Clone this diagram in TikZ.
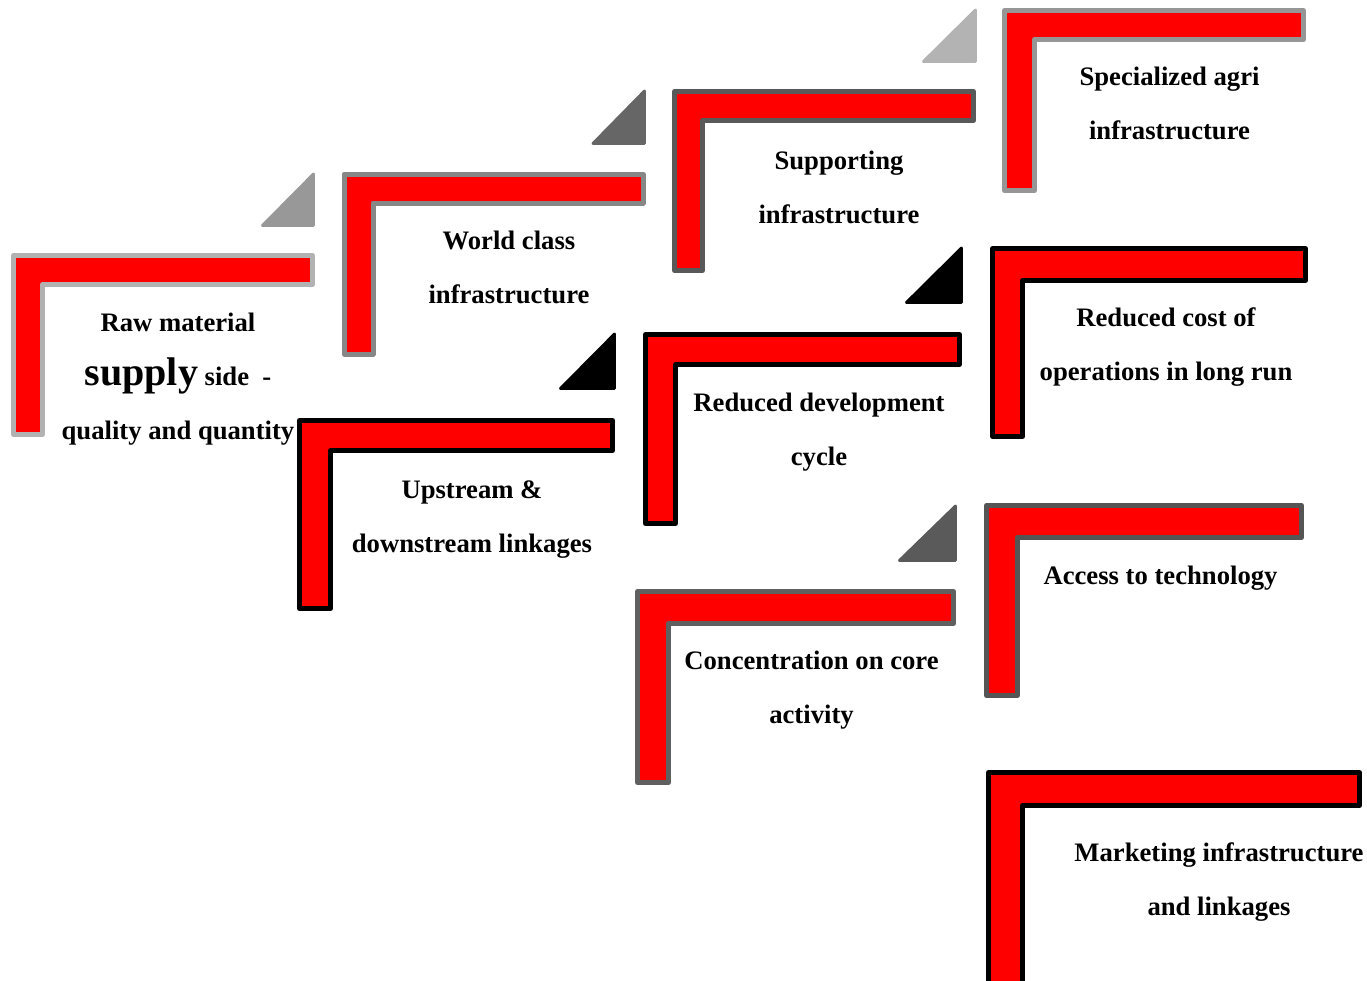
\documentclass[tikz,border=0pt]{standalone}
\usepackage{fontspec}
\setmainfont{Liberation Serif}
% one text line with a full-height strut, so every label box has the same vertical metrics
\newcommand\sline[1]{\strut#1}
% red L-shaped band: left, top, right, bottom of the bar, right of the post, bottom of the post
\newcommand\elbow[7]{%
  \draw[lframe, draw=#7] (#1,#2) -- (#3,#2) -- (#3,#4) -- (#5,#4) -- (#5,#6) -- (#1,#6) -- cycle;}
% small right-angled wedge: top-right corner, bottom-left corner, colour
\newcommand\wedgemark[5]{%
  \draw[wedge, draw=#5, fill=#5] (#1,#2) -- (#1,#4) -- (#3,#4) -- cycle;}
\definecolor{frameA}{HTML}{B2B2B2}
\definecolor{frameB}{HTML}{878787}
\definecolor{frameC}{HTML}{595959}
\definecolor{frameD}{HTML}{969696}
\definecolor{frameE}{HTML}{606060}
\definecolor{frameF}{HTML}{555555}
\definecolor{wedgeA}{HTML}{989898}
\definecolor{wedgeB}{HTML}{666666}
\definecolor{wedgeC}{HTML}{B3B3B3}
\definecolor{wedgeD}{HTML}{5A5A5A}
\begin{document}
\begin{tikzpicture}[x=0.75pt,y=-0.75pt,
  lframe/.style={fill=red, line width=3.75pt, line join=round},
  wedge/.style={line width=2.2pt, line join=round},
  lbl/.style={font=\fontsize{20}{40.5}\selectfont\bfseries, align=center, inner sep=0pt},
]
\useasboundingbox (0,0) rectangle (1367,981);
\clip (0,0) rectangle (1367,981);

% wedges
\wedgemark{313.5}{174}{262.5}{225.5}{wedgeA}
\wedgemark{644.5}{91}{593}{143.5}{wedgeB}
\wedgemark{975.5}{10}{923.5}{61.5}{wedgeC}
\wedgemark{961.5}{248}{906.5}{302.5}{black}
\wedgemark{614.5}{334}{560.5}{388.5}{black}
\wedgemark{955.5}{506}{899.5}{560.5}{wedgeD}

% L-shaped bands
\elbow{13.5}{255.5}{312.5}{284.5}{42.5}{434.5}{frameA}
\elbow{344}{174}{643}{203}{373}{354}{frameB}
\elbow{674.5}{91.5}{973.5}{120.5}{702.5}{270.5}{frameC}
\elbow{1004.5}{10.5}{1303.5}{39.5}{1034.5}{190.5}{frameD}
\elbow{992.5}{248.5}{1305.5}{280.5}{1022.5}{436.5}{black}
\elbow{645.5}{334.5}{959.5}{364.5}{675.5}{523.5}{black}
\elbow{299.5}{420.5}{612.5}{450.5}{330.5}{608.5}{black}
\elbow{637.5}{591.5}{953.5}{623.5}{668.5}{782.5}{frameE}
\elbow{986.5}{505.5}{1301.5}{537.5}{1017.5}{695.5}{frameF}
\elbow{988.5}{772.5}{1359.5}{805.5}{1022.5}{1010}{black}

% labels
\node[lbl] (raw) at (178,374.5) {\sline{Raw material}\\
  \sline{{\fontsize{30}{40.5}\selectfont supply} side\ \ -}\\
  \sline{quality and quantity}};
\node[lbl] (world) at (509,265.7) {\sline{World class}\\\sline{infrastructure}};
\node[lbl] (support) at (839,185.3) {\sline{Supporting}\\\sline{infrastructure}};
\node[lbl] (agri) at (1169.5,102) {\sline{Specialized agri}\\\sline{infrastructure}};
\node[lbl] (cost) at (1166,342.3) {\sline{Reduced cost of}\\\sline{operations in long run}};
\node[lbl] (devel) at (819,428) {\sline{Reduced development}\\\sline{cycle}};
\node[lbl] (stream) at (472,514.3) {\sline{Upstream \&}\\\sline{downstream linkages}};
\node[lbl] (core) at (811.5,686) {\sline{Concentration on core}\\\sline{activity}};
\node[lbl] (tech) at (1160.5,573.3) {\sline{Access to technology}};
\node[lbl] (market) at (1219,877.8) {\sline{Marketing infrastructure}\\\sline{and linkages}};
\end{tikzpicture}
\end{document}
